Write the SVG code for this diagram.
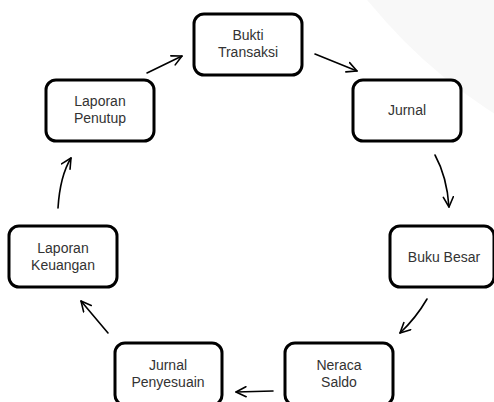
<svg xmlns="http://www.w3.org/2000/svg" width="494" height="402" viewBox="0 0 494 402">
<defs>
<style>
.box{fill:#ffffff;stroke:#000000;stroke-width:3}
.lbl{font-family:"Liberation Sans",Arial,sans-serif;font-size:14px;fill:#333333;text-anchor:middle}
.arr{fill:none;stroke:#000000;stroke-width:1.6;stroke-linecap:round;marker-end:url(#ah)}
</style>
<marker id="ah" viewBox="0 0 12 12" refX="11" refY="6" markerWidth="12" markerHeight="12" markerUnits="userSpaceOnUse" orient="auto">
<path d="M1,1 L11,6 L1,11" fill="none" stroke="#000000" stroke-width="1.6" stroke-linecap="round" stroke-linejoin="round"/>
</marker>
</defs>
<rect width="494" height="402" fill="#ffffff"/>
<circle cx="780" cy="-334" r="531" fill="#f8f8f8"/>
<g id="connectors">
<path class="arr" d="M147,73 L182,56"/>
<path class="arr" d="M315,54 L357,71"/>
<path class="arr" d="M435,155 Q447,177 449,207"/>
<path class="arr" d="M427,299 Q416,318 400,333"/>
<path class="arr" d="M273,391 L236,392"/>
<path class="arr" d="M108,333 L81,301"/>
<path class="arr" d="M58,208 Q60,176 71,158"/>
</g>
<g id="bukti-transaksi">
<rect class="box" x="194" y="14" width="108" height="61" rx="10"/>
<text class="lbl" x="248" y="40">Bukti</text>
<text class="lbl" x="248" y="57">Transaksi</text>
</g>
<g id="jurnal">
<rect class="box" x="353" y="80" width="108" height="61" rx="10"/>
<text class="lbl" x="407" y="115">Jurnal</text>
</g>
<g id="buku-besar">
<rect class="box" x="390" y="226" width="104" height="61" rx="10"/>
<text class="lbl" x="444" y="262">Buku Besar</text>
</g>
<g id="neraca-saldo">
<rect class="box" x="285" y="343" width="108" height="62" rx="10"/>
<text class="lbl" x="339" y="370">Neraca</text>
<text class="lbl" x="339" y="387">Saldo</text>
</g>
<g id="jurnal-penyesuain">
<rect class="box" x="115" y="343" width="107" height="62" rx="10"/>
<text class="lbl" x="168" y="370">Jurnal</text>
<text class="lbl" x="168" y="387">Penyesuain</text>
</g>
<g id="laporan-keuangan">
<rect class="box" x="9" y="226" width="108" height="61" rx="10"/>
<text class="lbl" x="63" y="253">Laporan</text>
<text class="lbl" x="63" y="270">Keuangan</text>
</g>
<g id="laporan-penutup">
<rect class="box" x="46" y="80" width="108" height="61" rx="10"/>
<text class="lbl" x="100" y="106">Laporan</text>
<text class="lbl" x="100" y="123">Penutup</text>
</g>
</svg>
